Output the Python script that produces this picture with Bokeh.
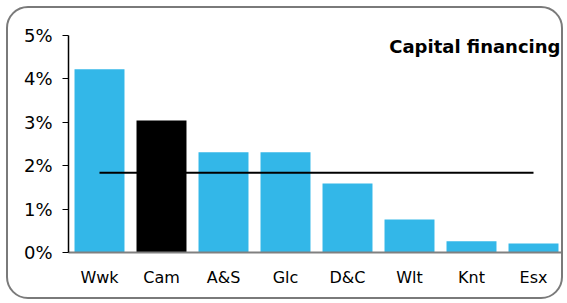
from bokeh.plotting import figure
from bokeh.models import FixedTicker, NumeralTickFormatter, Label, FactorRange, Range1d
from bokeh.embed import file_html
from bokeh.resources import INLINE

categories = ["Wwk", "Cam", "A&S", "Glc", "D&C", "Wlt", "Knt", "Esx"]
values = [0.0422, 0.0304, 0.0231, 0.0231, 0.0159, 0.0076, 0.0026, 0.0021]
colors = ["#33b7e8", "#000000", "#33b7e8", "#33b7e8", "#33b7e8", "#33b7e8", "#33b7e8", "#33b7e8"]
average = 0.0184
y_ticks = [0, 0.01, 0.02, 0.03, 0.04, 0.05]
title_text = "Capital financing"

FONT = "DejaVu Sans"

p = figure(x_range=FactorRange(*categories), y_range=Range1d(0, 0.05),
           width=557, height=293, output_backend="svg", toolbar_location=None,
           min_border_left=60, min_border_right=1, min_border_top=27, min_border_bottom=49)
p.styles = {"border": "2px solid #7a7a7a", "border-radius": "22px", "background": "white",
            "margin-left": "6px", "margin-top": "6px"}
p.border_fill_color = None
p.background_fill_color = None
p.outline_line_color = None
p.xgrid.grid_line_color = None
p.ygrid.grid_line_color = None

p.vbar(x=categories, top=values, width=0.806, color=colors, line_color=None)
p.line(x=[categories[0], categories[-1]], y=[average, average], line_color="black", line_width=2)

p.yaxis.ticker = FixedTicker(ticks=y_ticks)
p.yaxis.formatter = NumeralTickFormatter(format="0%")
p.yaxis.axis_line_color = "black"
p.yaxis.axis_line_width = 1.5
p.yaxis.major_tick_line_color = "black"
p.yaxis.major_tick_out = 6
p.yaxis.major_tick_in = 0
p.yaxis.minor_tick_line_color = None
p.yaxis.major_label_standoff = 10
p.yaxis.major_label_text_font = FONT
p.yaxis.major_label_text_font_size = "18px"
p.yaxis.major_label_text_color = "black"

p.xaxis.axis_line_color = "#808080"
p.xaxis.axis_line_width = 2
p.xaxis.major_tick_line_color = None
p.xaxis.major_tick_out = 0
p.xaxis.major_tick_in = 0
p.xaxis.major_label_standoff = 15
p.xaxis.major_label_text_font = FONT
p.xaxis.major_label_text_font_size = "16px"
p.xaxis.major_label_text_color = "black"

lbl = Label(x=7.935, y=0.0475, text=title_text, text_align="right", text_baseline="alphabetic",
            text_font=FONT, text_font_style="bold", text_font_size="18px", text_color="black")
p.add_layout(lbl)

open("out.html", "w").write(file_html(p, INLINE))
